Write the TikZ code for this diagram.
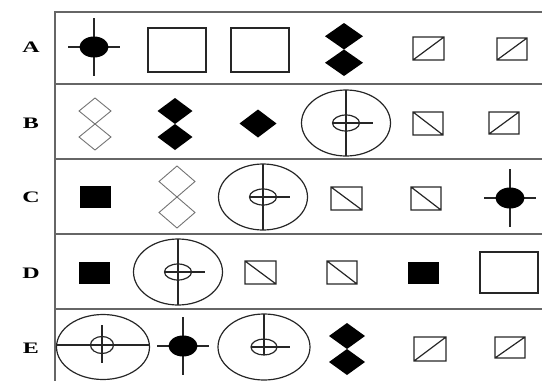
\documentclass[tikz,border=0pt]{standalone}
\usepackage{graphicx}
\usepackage{fontspec}
\setmainfont{Liberation Serif}
\usetikzlibrary{positioning}
\tikzset{
  figline/.style={draw=black!85, line width=1.2pt},
  openfig/.style={draw=black!55, line width=0.9pt},
  solidfig/.style={fill=black},
  rowrule/.style={draw=black!60, line width=2.6pt},
  frameline/.style={draw=black!60, line width=1.4pt},
  rowlabel/.style={font=\bfseries\fontsize{16}{16}\selectfont, inner sep=0pt}
}
% figures, all at pixel coordinates (y runs downwards)
\newcommand{\crossdot}[2]{%
  \draw[figline] ({#1-26},#2) -- ({#1+26},#2);
  \draw[figline] (#1,{#2-29}) -- (#1,{#2+29});
  \fill[black] (#1,#2) ellipse [x radius=14.5, y radius=10.5];}
\newcommand{\target}[2]{%
  \draw[figline] (#1,#2) ellipse [x radius=44.5, y radius=33];
  \draw[figline] (#1,#2) ellipse [x radius=13.5, y radius=8];
  \draw[figline] (#1,{#2-33}) -- (#1,{#2+33});
  \draw[figline] ({#1-13.5},#2) -- ({#1+27},#2);}
\newcommand{\openbox}[4]{\draw[figline] (#1,#2) rectangle (#3,#4);}
\newcommand{\slashbox}[4]{\draw[figline] (#1,#2) rectangle (#3,#4) (#1,#4) -- (#3,#2);}
\newcommand{\bslashbox}[4]{\draw[figline] (#1,#2) rectangle (#3,#4) -- (#1,#2);}
\newcommand{\solidbox}[4]{\fill[black] (#1,#2) rectangle (#3,#4);}
\newcommand{\twindiam}[5]{%
  \path[#1] (#2,#3) -- ({#2+#5},{(3*#3+#4)/4}) -- (#2,{(#3+#4)/2}) -- ({#2-#5},{(3*#3+#4)/4}) -- cycle
    (#2,{(#3+#4)/2}) -- ({#2+#5},{(#3+3*#4)/4}) -- (#2,#4) -- ({#2-#5},{(#3+3*#4)/4}) -- cycle;}

\begin{document}
\begin{tikzpicture}[x=1pt, y=-1pt]
  \useasboundingbox (0,0) rectangle (542,381);
  % Frame and row rules
  \draw[frameline] (542,12) -- (55,12) -- (55,381);
  \draw[rowrule] (55,84) -- (542,84);
  \draw[rowrule] (55,159) -- (542,159);
  \draw[rowrule] (55,234) -- (542,234);
  \draw[rowrule] (55,309) -- (542,309);
  % Row labels
  \node[rowlabel] (laba) at (31,47) {\scalebox{1.5}[1]{A}};
  \node[rowlabel] (labb) at (31,123) {\scalebox{1.5}[1]{B}};
  \node[rowlabel] (labc) at (31,197) {\scalebox{1.5}[1]{C}};
  \node[rowlabel] (labd) at (31,273) {\scalebox{1.5}[1]{D}};
  \node[rowlabel] (labe) at (31,348) {\scalebox{1.5}[1]{E}};
  % Row A
  \crossdot{94}{47}
  \openbox{148}{28}{206}{72}
  \openbox{231}{28}{289}{72}
  \twindiam{solidfig}{344}{23}{76}{19}
  \slashbox{413}{37}{444}{60}
  \slashbox{497}{38}{527}{60}
  % Row B
  \twindiam{openfig}{95}{98}{150}{16}
  \twindiam{solidfig}{175}{98}{150}{17.5}
  \path[solidfig] (258,109.5) -- (276.5,123.5) -- (258,137.5) -- (239.5,123.5) -- cycle;
  \target{346}{123}
  \bslashbox{413}{112}{443}{135}
  \slashbox{489}{112}{519}{134}
  % Row C
  \solidbox{80}{186}{111}{208}
  \twindiam{openfig}{177}{166}{228}{18}
  \target{263}{197}
  \bslashbox{331}{187}{362}{210}
  \bslashbox{411}{187}{441}{210}
  \crossdot{510}{198}
  % Row D
  \solidbox{79}{262}{110}{284}
  \target{178}{272}
  \bslashbox{245}{261}{276}{284}
  \bslashbox{327}{261}{357}{284}
  \solidbox{408}{262}{439}{284}
  \openbox{480}{252}{538}{293}
  % Row E
  \draw[figline] (103,347) ellipse [x radius=46.5, y radius=32.5];
  \draw[figline] (102,345) ellipse [x radius=11.5, y radius=8.5];
  \draw[figline] (56.5,345) -- (149.5,345);
  \draw[figline] (102,325) -- (102,363);
  \crossdot{183}{346}
  \draw[figline] (264,347) ellipse [x radius=46, y radius=33];
  \draw[figline] (264,347) ellipse [x radius=13, y radius=8];
  \draw[figline] (264,314) -- (264,355);
  \draw[figline] (251,347) -- (290,347);
  \twindiam{solidfig}{347}{323}{375}{18}
  \slashbox{414}{337}{446}{361}
  \slashbox{495}{337}{525}{358}
\end{tikzpicture}
\end{document}
